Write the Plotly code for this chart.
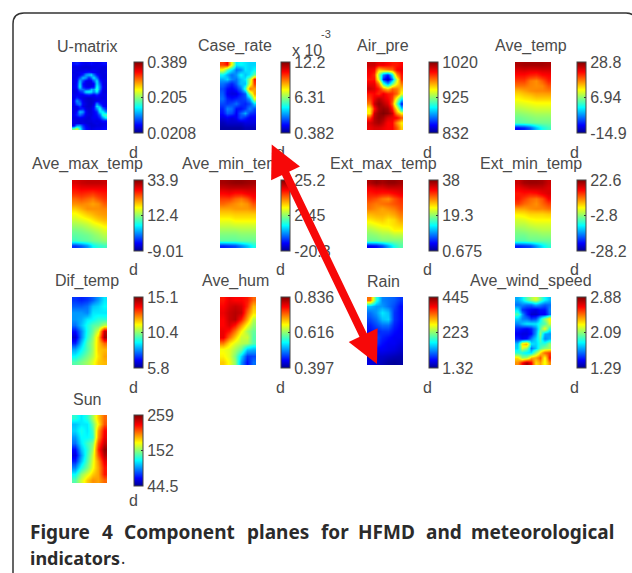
import plotly.graph_objects as go

W, H = 632, 573

# Grid values are read as percent of each panel's colour scale (0 = bottom tick, 100 = top tick)
u_matrix = [
 [12,14,12,10,9,10,12,10,9,10,12,12],[8,9,8,7,7,7,8,8,9,9,8,8],[9,8,8,8,9,8,9,10,9,8,8,8],
 [8,9,10,10,12,14,12,10,9,8,8,9],[9,8,10,14,26,30,34,22,12,9,8,8],[8,10,18,30,26,14,22,34,22,10,8,8],
 [9,10,30,18,10,9,10,20,34,14,9,9],[8,12,34,12,9,8,8,10,34,20,9,8],[9,12,36,14,10,9,10,12,38,24,10,8],
 [8,10,24,22,18,20,30,26,42,22,9,8],[8,9,14,18,34,36,34,24,36,16,8,8],[9,10,10,10,12,14,12,10,14,10,9,9],
 [8,14,10,8,7,6,7,8,9,9,8,9],[10,26,18,9,7,6,6,7,8,9,10,9],[9,20,24,10,8,6,6,8,26,14,10,9],
 [8,10,16,9,7,6,7,10,34,28,12,10],[9,8,12,14,8,7,8,12,24,38,22,14],[8,12,30,26,10,7,8,10,14,34,36,24],
 [9,14,22,16,9,8,8,10,12,20,40,44],[8,9,10,9,8,7,9,10,10,14,26,36],[9,8,8,8,7,8,8,9,8,9,12,12],
 [8,9,8,9,8,7,7,8,9,8,9,9],[10,26,28,16,10,8,7,7,8,8,9,10],[46,58,40,20,12,10,8,9,10,10,11,12]]
case_rate = [
 [80,86,60,34,36,34,32,32],[60,44,34,22,24,34,32,36],[36,28,22,26,36,30,34,46],[28,32,24,22,30,34,52,84],
 [22,18,14,20,30,30,56,80],[18,12,10,14,22,42,74,70],[20,10,8,8,14,20,50,70],[22,14,12,14,16,18,28,58],
 [18,16,18,22,16,14,18,32],[14,24,22,12,12,16,24,18],[12,20,18,10,20,28,16,14],[8,10,8,10,18,14,10,10],
 [4,6,6,6,6,8,8,8],[2,2,2,2,2,4,4,4]]
air_pre = [
 [92,92,88,88,86,84,84,86],[88,86,66,70,74,76,86,88],[86,82,50,24,14,36,72,84],[84,84,56,14,4,22,56,82],
 [88,88,74,42,26,46,62,74],[92,90,84,72,66,76,74,66],[84,86,82,88,84,82,76,60],[80,88,94,90,86,80,58,36],
 [74,92,98,94,90,76,46,14],[62,84,96,98,96,84,62,34],[62,92,98,100,98,92,72,62],[80,94,98,96,90,88,86,78],
 [90,94,96,92,86,86,72,62],[88,90,90,88,86,86,78,66]]
ave_temp = [
 [95,96,96,96,96,95],[90,91,90,90,91,91],[85,85,83,82,85,86],[80,80,74,72,77,83],[75,75,73,72,73,78],
 [68,70,72,73,73,74],[63,65,66,68,68,68],[59,60,61,62,62,62],[55,56,57,58,58,58],[51,52,53,54,54,54],
 [47,48,49,50,50,50],[44,45,46,47,47,47],[12,14,20,30,38,42]]
ave_max_temp = [
 [90,92,93,93,93,92],[86,88,88,88,88,88],[82,83,82,81,83,84],[76,78,76,74,78,81],[72,73,72,70,72,77],
 [66,69,72,72,72,73],[60,63,66,68,70,71],[56,58,60,63,66,68],[52,53,55,58,60,63],[48,49,51,53,55,58],
 [45,46,47,49,51,54],[42,44,45,47,48,50],[16,20,26,36,40,42]]
ave_min_temp = [
 [96,97,98,98,97,96],[92,93,93,93,93,92],[86,87,85,85,87,88],[80,80,76,74,78,84],[76,74,72,70,72,78],
 [70,70,71,71,71,73],[65,65,66,66,66,66],[60,60,62,62,62,62],[56,56,57,57,57,57],[52,52,52,53,53,53],
 [48,48,48,49,49,49],[45,45,45,46,46,46],[14,16,18,24,30,38]]
ext_max_temp = [
 [95,98,96,98,98,96],[88,90,90,92,92,92],[84,85,84,84,86,88],[80,78,74,72,78,82],[76,74,75,76,78,80],
 [74,72,70,72,74,78],[68,69,69,68,70,74],[63,65,66,63,65,70],[58,60,62,62,64,66],[53,55,57,58,62,62],
 [49,50,52,52,54,54],[46,46,48,48,48,48],[10,12,18,28,38,44]]
ext_min_temp = [
 [92,96,97,97,96,92],[88,90,92,92,92,90],[84,85,84,85,88,90],[84,80,76,74,78,86],[80,76,74,72,76,80],
 [70,70,72,73,73,75],[62,63,65,65,65,66],[57,58,60,61,61,61],[54,54,56,57,57,57],[50,51,52,53,54,54],
 [47,47,49,49,50,50],[44,44,46,46,46,46],[14,16,18,26,34,40]]
dif_temp = [
 [16,14,16,20,26,34],[20,20,22,30,32,36],[26,26,24,34,34,34],[26,28,34,36,40,40],[22,30,38,44,46,54],
 [12,24,38,46,58,92],[6,24,40,50,66,96],[14,30,44,52,66,76],[28,36,44,52,66,68],[36,42,48,54,64,70],
 [44,48,52,58,66,68]]
ave_hum = [
 [84,88,86,86,84,76],[86,90,92,90,82,68],[88,92,94,92,76,64],[86,92,94,84,70,54],[86,90,84,72,60,50],
 [88,84,74,62,52,46],[88,76,66,56,56,44],[74,64,58,54,52,44],[60,58,52,46,30,28],[62,58,48,32,16,18],
 [66,60,50,26,12,22]]
rain = [
 [75,40,24,22,20,16],[30,26,26,22,18,12],[22,26,34,30,16,12],[18,22,30,32,16,12],[14,18,22,22,14,11],
 [12,14,16,16,12,10],[14,18,14,12,10,10],[16,16,12,10,10,8],[12,10,10,9,8,6],[6,6,6,5,4,3],
 [8,6,4,2,1,2]]
ave_wind_speed = [
 [28,34,44,52,58,46,36,30],[22,24,22,22,28,24,20,22],[34,16,12,10,8,12,12,24],[44,26,14,6,6,10,10,22],
 [32,24,22,16,18,34,50,62],[24,30,34,34,34,40,44,56],[14,12,10,14,24,44,60,40],[10,8,8,12,26,50,28,26],
 [14,10,12,24,32,44,24,28],[30,64,70,34,32,40,40,50],[32,58,50,22,30,44,50,52],[40,38,34,34,50,64,76,80],
 [64,50,52,68,70,78,60,84],[72,86,96,86,64,70,60,72]]
sun = [
 [40,34,40,52,66,76],[30,34,34,46,62,78],[32,38,34,42,70,86],[26,36,36,40,72,88],[22,34,42,48,78,92],
 [12,30,40,52,82,98],[8,26,42,56,78,94],[14,30,44,58,72,88],[24,38,48,60,70,84],[36,50,58,66,70,84],
 [44,56,66,72,70,76]]

names = ["U-matrix","Case_rate","Air_pre","Ave_temp",
         "Ave_max_temp","Ave_min_temp","Ext_max_temp","Ext_min_temp",
         "Dif_temp","Ave_hum","Rain","Ave_wind_speed","Sun"]
grids = [u_matrix,case_rate,air_pre,ave_temp,ave_max_temp,ave_min_temp,ext_max_temp,ext_min_temp,
         dif_temp,ave_hum,rain,ave_wind_speed,sun]
tick_labels = [["0.0208","0.205","0.389"],["0.382","6.31","12.2"],["832","925","1020"],["-14.9","6.94","28.8"],
               ["-9.01","12.4","33.9"],["-20.3","2.45","25.2"],["0.675","19.3","38"],["-28.2","-2.8","22.6"],
               ["5.8","10.4","15.1"],["0.397","0.616","0.836"],["1.32","223","445"],["1.29","2.09","2.88"],
               ["44.5","152","259"]]

jet = [[0,"rgb(0,0,143)"],[0.11,"rgb(0,0,255)"],[0.36,"rgb(0,255,255)"],
       [0.61,"rgb(255,255,0)"],[0.86,"rgb(255,0,0)"],[1,"rgb(128,0,0)"]]

# layout (pixels)
col_heat = [(72,107),(220,256),(367,403),(515,551)]
col_bar = [134,281,429,577]
row_top = [62,180,297,415]
title_x = [87,235,383,531]
title_y = [46,164,281,399]
d_x = [133,280,428,574]
d_y = [152,269,387,500]
HEAT_H, BAR_H, BAR_W = 68, 71, 9
TXT = "#4a4a4a"; FONT = "Liberation Sans"

def px(x): return x/W
def py(y): return 1-y/H

fig = go.Figure()
ann = []
def label(x, y, t, size=16, color=TXT, family=FONT, xa="center", bold=False):
    ann.append(dict(x=px(x), y=py(y), xref="paper", yref="paper", text=f"<b>{t}</b>" if bold else t,
                    showarrow=False, xanchor=xa, yanchor="middle",
                    font=dict(size=size, color=color, family=family), borderpad=0, borderwidth=0))

for i, (nm, g, tl) in enumerate(zip(names, grids, tick_labels)):
    r, c = divmod(i, 4)
    ax = "" if i == 0 else str(i+1)
    x0, x1 = col_heat[c]; y0 = row_top[r]
    fig.add_trace(go.Heatmap(z=g, zmin=0, zmax=100, zsmooth="best", colorscale=jet, name=nm,
        xaxis="x"+ax, yaxis="y"+ax, hoverinfo="skip",
        colorbar=dict(x=px(col_bar[c]), xanchor="left", xpad=0, ypad=0, y=py(y0), yanchor="top",
                      lenmode="pixels", len=BAR_H, thicknessmode="pixels", thickness=BAR_W,
                      tickmode="array", tickvals=[0,50,100], ticktext=tl, ticks="inside", ticklen=2,
                      tickcolor="#333", tickwidth=1, outlinecolor="#444", outlinewidth=1,
                      tickfont=dict(size=16, color=TXT, family=FONT))))
    common = dict(visible=False, showgrid=False, zeroline=False)
    fig.update_layout({("xaxis"+ax): dict(domain=[px(x0), px(x1)], anchor="y"+ax, **common),
                       ("yaxis"+ax): dict(domain=[py(y0+HEAT_H), py(y0)], anchor="x"+ax,
                                          autorange="reversed", **common)})
    label(title_x[c], title_y[r], nm)
    label(d_x[c], d_y[r], "d")

label(307, 50, "x 10")
label(326, 34, "-3", size=11)

# caption
DARK = "#2b2b2b"; CAP = "Noto Sans"
words = ["Figure","4","Component","planes","for","HFMD","and","meteorological"]
word_x = [30,102,124,247,321,358,426,471]
for w, x in zip(words, word_x):
    label(x, 532, w, size=19, color=DARK, family=CAP, xa="left", bold=True)
label(30, 558, "indicators", size=18, color=DARK, family=CAP, xa="left", bold=True)
label(121, 558, ".", size=16, color=DARK, family=CAP, xa="left")

# red double arrow (annotation so it sits over the labels)
ann.append(dict(x=px(377), y=py(364), xref="paper", yref="paper", ax=271-377, ay=143-364, axref="pixel", ayref="pixel",
                text="", showarrow=True, arrowside="end+start", arrowhead=2, startarrowhead=2,
                arrowsize=0.8, startarrowsize=0.8, arrowwidth=8, arrowcolor="#f70808"))

fig.update_layout(width=W, height=H, margin=dict(l=0,r=0,t=0,b=0,pad=0), paper_bgcolor="white", plot_bgcolor="white",
    annotations=ann, showlegend=False,
    shapes=[dict(type="path", xref="paper", yref="paper", layer="below",
                 path=f"M {px(636)} {py(20)} Q {px(634)} {py(13)} {px(626)} {py(13)} L {px(24)} {py(13)} Q {px(13)} {py(13)} {px(13)} {py(24)} L {px(13)} {py(575)}",
                 line=dict(color="#333", width=1.5))])
fig.write_html("out.html", config=dict(displayModeBar=False),
               post_script="document.body.style.margin='0';document.body.style.overflow='hidden';")
